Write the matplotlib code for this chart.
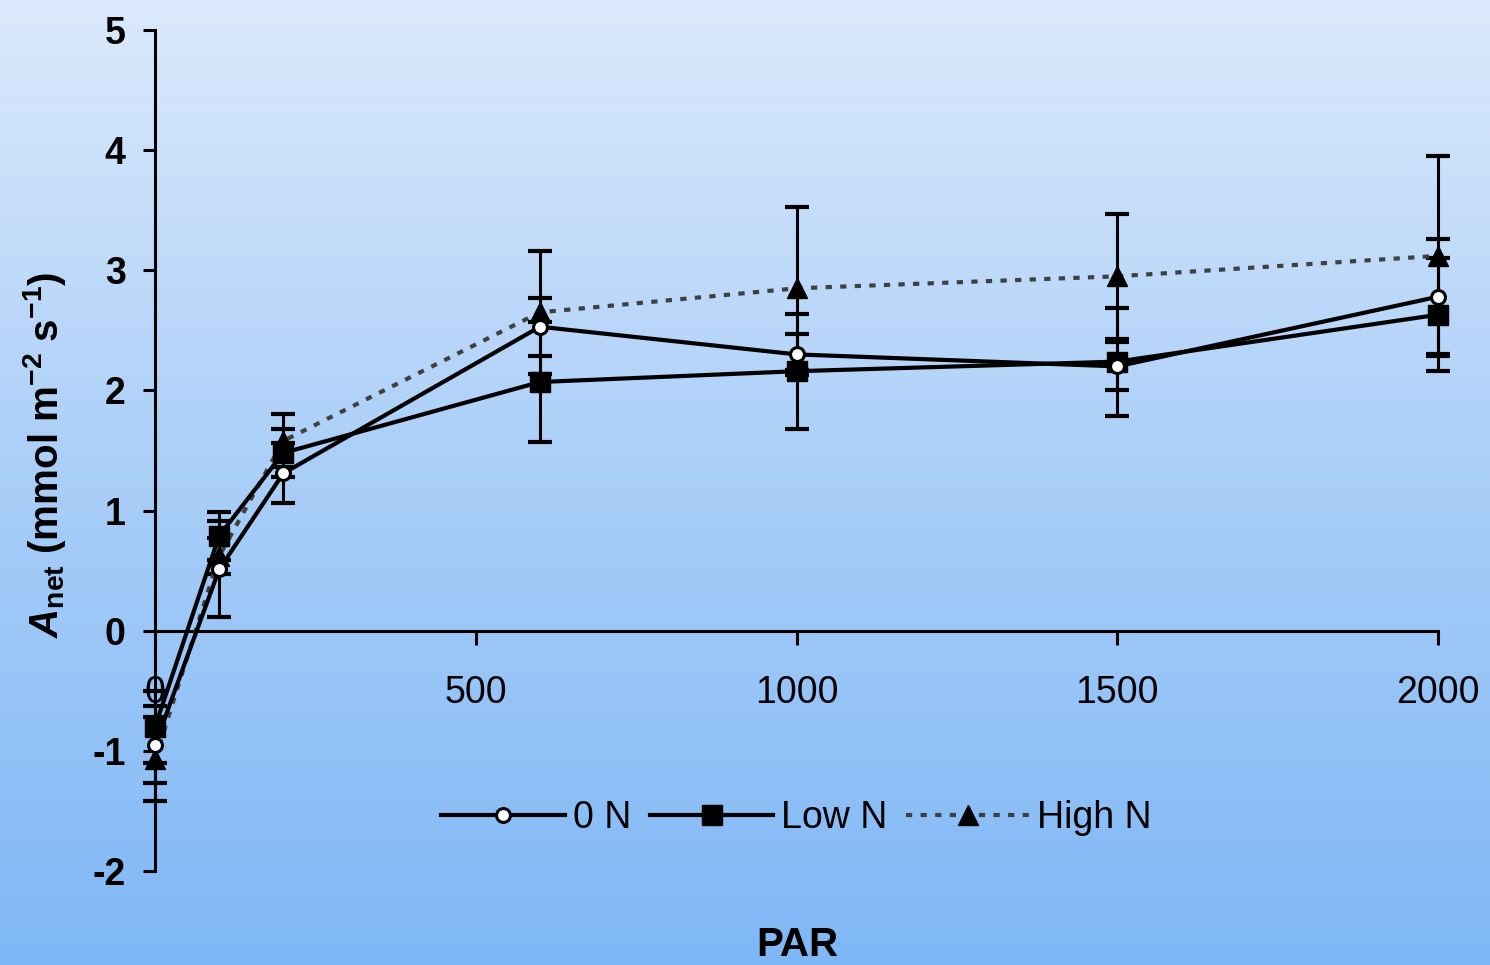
import numpy as np
import matplotlib
matplotlib.use('Agg')
import matplotlib.pyplot as plt
from matplotlib.colors import LinearSegmentedColormap

plt.rcParams['font.family'] = ['Liberation Sans', 'DejaVu Sans']
plt.rcParams['axes.unicode_minus'] = False
plt.rcParams['mathtext.fontset'] = 'custom'
plt.rcParams['mathtext.rm'] = 'Liberation Sans:bold'
plt.rcParams['mathtext.bf'] = 'Liberation Sans:bold'
plt.rcParams['mathtext.it'] = 'Liberation Sans:bold:italic'

# light response data
par = [0, 100, 200, 600, 1000, 1500, 2000]
zero_n = [-0.95, 0.51, 1.31, 2.53, 2.30, 2.20, 2.78]
zero_n_err = [0.32, 0.40, 0.25, 0.24, 0.17, 0.20, 0.48]
low_n = [-0.80, 0.79, 1.48, 2.07, 2.16, 2.24, 2.63]
low_n_err = [0.30, 0.20, 0.20, 0.50, 0.48, 0.45, 0.47]
high_n = [-1.07, 0.62, 1.58, 2.65, 2.85, 2.95, 3.12]
high_n_err = [0.35, 0.15, 0.22, 0.51, 0.68, 0.52, 0.83]

fig = plt.figure(figsize=(14.9, 9.65), dpi=100)

# background gradient
bg = fig.add_axes([0, 0, 1, 1], zorder=-10)
cmap = LinearSegmentedColormap.from_list('bg', ['#dbe9fc', '#a9cef8', '#7fb7f6'])
grad = np.linspace(0, 1, 256).reshape(-1, 1)
bg.imshow(grad, aspect='auto', cmap=cmap, extent=[0, 1, 0, 1])
bg.axis('off')

ax = fig.add_axes([155 / 1490, 1 - 871 / 965, 1283 / 1490, 841 / 965])
ax.set_facecolor('none')

err_kw = dict(ecolor='black', elinewidth=2.2, capsize=8.5, capthick=3)
for y, e in [(high_n, high_n_err), (low_n, low_n_err), (zero_n, zero_n_err)]:
    cont = ax.errorbar(par, y, yerr=e, fmt='none', **err_kw)
    for art in cont.get_children():
        art.set_clip_on(False)

ax.plot(par, high_n, color='#404040', lw=3, linestyle=(0, (1.5, 2)),
        marker='^', markersize=15, markerfacecolor='black', markeredgecolor='black',
        label='High N', zorder=3, clip_on=False)
ax.plot(par, low_n, color='black', lw=3, marker='s', markersize=14,
        markerfacecolor='black', markeredgecolor='black', label='Low N',
        zorder=4, clip_on=False)
ax.plot(par, zero_n, color='black', lw=3, marker='o', markersize=10,
        markerfacecolor='white', markeredgecolor='black', markeredgewidth=2.2,
        label='0 N', zorder=5, clip_on=False)

ax.set_xlim(0, 2000)
ax.set_ylim(-2, 5)
ax.spines['top'].set_visible(False)
ax.spines['right'].set_visible(False)
ax.spines['bottom'].set_position(('data', 0))
ax.spines['left'].set_linewidth(2.2)
ax.spines['bottom'].set_linewidth(2.2)

ax.set_xticks([0, 500, 1000, 1500, 2000])
ax.set_yticks(range(-2, 6))
ax.tick_params(axis='x', direction='out', length=10, width=2.2, pad=22, labelsize=27)
ax.tick_params(axis='y', direction='out', length=9, width=2.2, pad=12, labelsize=27)
for lbl in ax.get_yticklabels():
    lbl.set_fontweight('bold')

handles, labels = ax.get_legend_handles_labels()
order = [2, 1, 0]
ax.legend([handles[i] for i in order], [labels[i] for i in order],
          loc='center', bbox_to_anchor=(0.5, 0.063), ncol=3, frameon=False,
          fontsize=27, handlelength=3.3, handletextpad=0.2, columnspacing=0.5)

fig.text(45 / 1490, 1 - 455 / 965, r'$A_{\mathrm{net}}$ (mmol m$^{-2}$ s$^{-1}$)',
         rotation=90, ha='center', va='center', fontsize=29, fontweight='bold')
fig.text(797 / 1490, 1 - 945 / 965, 'PAR', ha='center', va='center',
         fontsize=29, fontweight='bold')

fig.savefig('out.png', dpi=100)
